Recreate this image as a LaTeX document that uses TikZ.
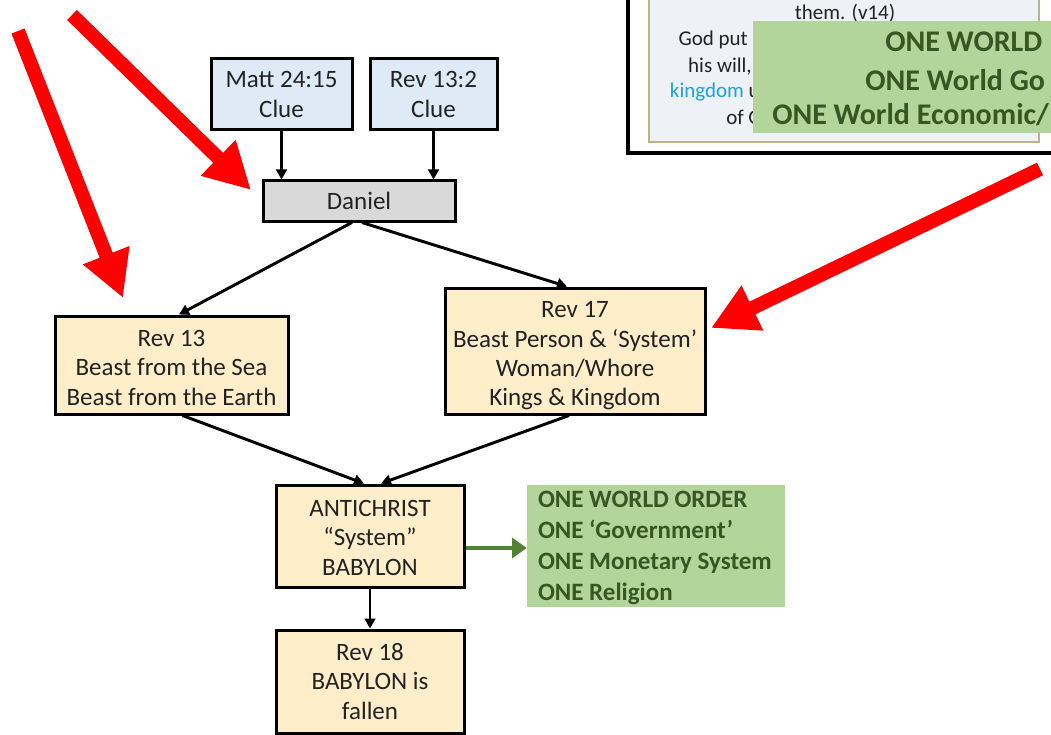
\documentclass[tikz,border=0pt]{standalone}
\usepackage{fontspec}
\setmainfont{Carlito}
\usetikzlibrary{arrows.meta,calc}
\definecolor{boxblue}{HTML}{DEEBF7}
\definecolor{boxgray}{HTML}{D9D9D9}
\definecolor{boxcream}{HTML}{FFEEC9}
\definecolor{boxgreen}{HTML}{B2D59B}
\definecolor{textgreen}{HTML}{375623}
\definecolor{arrowgreen}{HTML}{548235}
\definecolor{textdark}{HTML}{222222}
\definecolor{redarrow}{HTML}{FF0000}
\definecolor{panelfill}{HTML}{EEF1F6}
\definecolor{panelborder}{HTML}{BDB38A}
\definecolor{kingblue}{HTML}{1AA3DC}
\newcommand\mainfs{\fontsize{18.75pt}{22pt}\selectfont}
\newcommand\greenfs{\fontsize{18.75pt}{23.25pt}\selectfont\bfseries}
\newcommand\insetfs{\fontsize{15.75pt}{18pt}\selectfont}
\newcommand\insetgreenfs{\fontsize{22.5pt}{26pt}\selectfont\bfseries}
\newcommand\lowerby[2]{\raisebox{-#1}[\height][\depth]{\begin{tabular}{@{}c@{}}#2\end{tabular}}}
\tikzset{
  box/.style={draw=black, line width=2.25pt, align=center, inner sep=0pt, font=\mainfs, text=textdark},
  conn/.style={draw=black, line width=2.2pt, -{Triangle[length=7.5pt,width=8pt]}},
  greenconn/.style={draw=arrowgreen, line width=3.5pt, -{Triangle[length=11pt,width=15pt]}},
  redconn/.style={draw=redarrow, line width=10.5pt, -{Triangle[length=34.5pt,width=35pt]}},
  insettext/.style={inner sep=0pt, font=\insetfs, text=textdark},
  insetgreen/.style={inner sep=0pt, font=\insetgreenfs, text=textgreen, anchor=west},
}
\begin{document}
\begin{tikzpicture}[x=0.75pt,y=-0.75pt]
\useasboundingbox (0,0) rectangle (1051,735);
\clip (0,0) rectangle (1051,735);
\fill[white] (0,0) rectangle (1051,735);

% ---- inset panel (top right) ----
\draw[line width=3pt, fill=white] (628,-20) rectangle (1070,153);
\draw[draw=panelborder, line width=1.5pt, fill=panelfill] (649,-20) rectangle (1039,142);
\node[insettext] (them) at (845,13) {them. (v14)};
\node[insettext, anchor=east] (godput) at (748,40) {God put};
\node[insettext, anchor=east] (hiswill) at (752,67) {his will,};
\node[insettext, anchor=east] (kingdom) at (760,92) {\textcolor{kingblue}{kingdom} u};
\node[insettext, anchor=east] (ofg) at (762,117) {of G};
\fill[boxgreen] (753,21) rectangle (1070,133);
\node[insetgreen] (owo) at (885,42) {ONE WORLD};
\node[insetgreen] (owg) at (865,80) {ONE World Go};
\node[insetgreen] (owe) at (772,115) {ONE World Economic/};

% ---- flowchart ----
\node[box, fill=boxblue, minimum width=105.75pt, minimum height=53.25pt] (matt) at (281.5,94.5) {Matt 24:15\\Clue};
\node[box, fill=boxblue, minimum width=95.25pt, minimum height=53.25pt] (rev132) at (433.5,94.5) {Rev 13:2\\Clue};
\node[box, fill=boxgray, minimum width=144pt, minimum height=30pt] (daniel) at (359,201) {Daniel};
\node[box, fill=boxcream, minimum width=174.75pt, minimum height=73.5pt] (rev13) at (171.5,365) {\lowerby{3.75pt}{Rev 13\\Beast from the Sea\\Beast from the Earth}};
\node[box, fill=boxcream, minimum width=195pt, minimum height=94.5pt] (rev17) at (575,351) {\lowerby{3.75pt}{Rev 17\\Beast Person \& ‘System’\\Woman/Whore\\Kings \& Kingdom}};
\node[box, fill=boxcream, minimum width=141pt, minimum height=76.5pt] (anti) at (370,536) {\lowerby{3pt}{ANTICHRIST\\“System”\\BABYLON}};
\node[box, fill=boxcream, minimum width=141pt, minimum height=77.25pt] (rev18) at (370,681.5) {Rev 18\\BABYLON is\\fallen};
\node[fill=boxgreen, draw=none, inner sep=0pt, minimum width=193.5pt, minimum height=91.5pt] (green) at (656,546) {};
\node[anchor=west, inner sep=0pt, align=left, font=\greenfs, text=textgreen] (greentext) at ($(green.west)+(11,2)$) {ONE WORLD ORDER\\ONE ‘Government’\\ONE Monetary System\\ONE Religion};

\draw[conn] (matt.south) -- (matt.south |- daniel.north);
\draw[conn] (rev132.south) -- (rev132.south |- daniel.north);
\draw[conn] ($(daniel.south)+(-7,0)$) -- ($(rev13.north)+(7.5,0)$);
\draw[conn] ($(daniel.south)+(3,0)$) -- ($(rev17.north)+(-8,0)$);
\draw[conn] ($(rev13.south)+(11,0)$) -- ($(anti.north)+(-6,0)$);
\draw[conn] ($(rev17.south)+(-6,0)$) -- ($(anti.north)+(11,0)$);
\draw[conn] (anti.south) -- (rev18.north);
\draw[greenconn] ($(anti.east)+(0,12)$) -- ($(green.west)+(0,2)$);

% ---- red arrows ----
\coordinate (r1s) at (18,31);
\coordinate (r1e) at (123,298);
\coordinate (r2s) at (72,15);
\coordinate (r2e) at (251,190);
\coordinate (r3s) at (1040,169);
\coordinate (r3e) at (711,328);
\draw[redconn] (r1s) -- (r1e);
\draw[redconn] (r2s) -- (r2e);
\draw[redconn] (r3s) -- (r3e);
\end{tikzpicture}
\end{document}
